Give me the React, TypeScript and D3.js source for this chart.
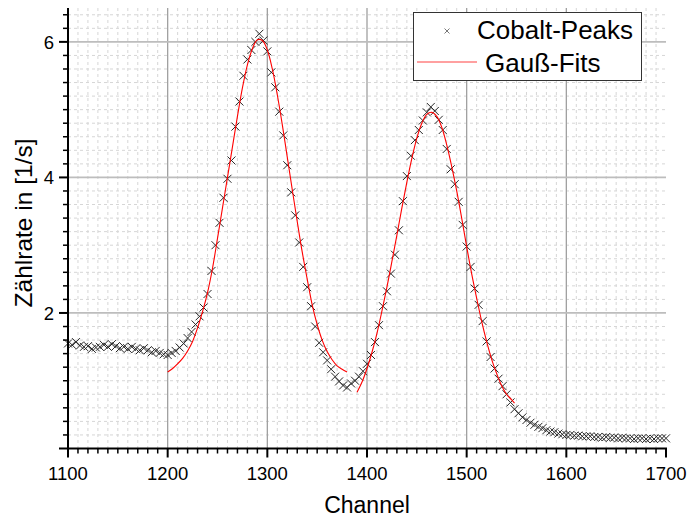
import * as d3 from "d3";

const WIDTH = 690;
const HEIGHT = 520;
const PLOT = { LEFT: 68, RIGHT: 666, TOP: 8, BOTTOM: 448.5 };
const FONT = "'Liberation Sans', Arial, sans-serif";

// measured counts, one every 4 channels starting at 1100
const START_CHANNEL = 1100;
const STEP = 4;
const COUNTS = [
  1.55, 1.53, 1.57, 1.52, 1.5, 1.51, 1.47, 1.49, 1.5, 1.53,
  1.5, 1.54, 1.51, 1.48, 1.5, 1.47, 1.5, 1.47, 1.45, 1.48,
  1.45, 1.42, 1.44, 1.41, 1.39, 1.38, 1.41, 1.44, 1.49, 1.55,
  1.63, 1.72, 1.83, 1.95, 2.08, 2.28, 2.62, 3.0, 3.33, 3.7,
  3.98, 4.25, 4.75, 5.12, 5.5, 5.74, 5.88, 6.0, 6.12, 6.02,
  5.86, 5.55, 5.33, 4.97, 4.62, 4.18, 3.78, 3.44, 3.04, 2.68,
  2.38, 2.1, 1.8, 1.56, 1.42, 1.3, 1.17, 1.06, 0.99, 0.93,
  0.9, 0.96, 1.0, 1.06, 1.14, 1.25, 1.38, 1.57, 1.82, 2.1,
  2.32, 2.58, 2.86, 3.22, 3.65, 4.02, 4.32, 4.55, 4.7, 4.84,
  4.96, 5.04, 4.98, 4.85, 4.7, 4.42, 4.12, 3.9, 3.64, 3.3,
  2.98, 2.68, 2.36, 2.12, 1.88, 1.58, 1.35, 1.18, 1.03, 0.92,
  0.8, 0.68, 0.58, 0.52, 0.46, 0.42, 0.38, 0.35, 0.32, 0.3,
  0.27, 0.25, 0.24, 0.22, 0.21, 0.2, 0.2, 0.19, 0.19, 0.18,
  0.18, 0.18, 0.17, 0.17, 0.16, 0.17, 0.16, 0.16, 0.15, 0.16,
  0.15, 0.15, 0.14, 0.15, 0.15, 0.14, 0.15, 0.14, 0.15, 0.15,
  0.15,
];

// gauss fits, first peak
const FIT1_CH = [
  1200, 1205, 1210, 1215, 1220, 1225, 1230, 1235, 1240, 1245, 1250, 1255,
  1260, 1265, 1270, 1275, 1280, 1285, 1290, 1295, 1300, 1305, 1310, 1315,
  1320, 1325, 1330, 1335, 1340, 1345, 1350, 1355, 1360, 1365, 1370, 1375, 1380,
];
const FIT1_VAL = [
  1.13, 1.18, 1.25, 1.33, 1.44, 1.58, 1.78, 2.02, 2.3, 2.66, 3.1, 3.55,
  4.0, 4.45, 4.9, 5.32, 5.66, 5.9, 6.03, 6.02, 5.88, 5.6, 5.22, 4.78,
  4.3, 3.82, 3.35, 2.9, 2.5, 2.12, 1.83, 1.6, 1.43, 1.31, 1.22, 1.17, 1.13,
];

// second peak
const FIT2_CH = [
  1390, 1395, 1400, 1405, 1410, 1415, 1420, 1425, 1430, 1435, 1440, 1445,
  1450, 1455, 1460, 1465, 1470, 1475, 1480, 1485, 1490, 1495, 1500, 1505,
  1510, 1515, 1520, 1525, 1530, 1535, 1540, 1545, 1548,
];
const FIT2_VAL = [
  0.83, 0.98, 1.18, 1.42, 1.7, 2.03, 2.38, 2.76, 3.15, 3.55, 3.93, 4.28,
  4.58, 4.8, 4.93, 4.96, 4.9, 4.74, 4.48, 4.16, 3.8, 3.4, 2.98, 2.58,
  2.22, 1.88, 1.58, 1.32, 1.11, 0.93, 0.8, 0.72, 0.67,
];

const X_TICKS = [1100, 1200, 1300, 1400, 1500, 1600, 1700];
const Y_TICKS = [2, 4, 6];
const X_LABEL = "Channel";
const Y_LABEL = "Zählrate in [1/s]";
const LEGEND = ["Cobalt-Peaks", "Gauß-Fits"];

export default function App() {
  const x = d3.scaleLinear().domain([1100, 1700]).range([PLOT.LEFT, PLOT.RIGHT]);
  const y = d3.scaleLinear().domain([0, 6.5]).range([PLOT.BOTTOM, PLOT.TOP]);

  const xMinor = d3.range(1100, 1701, 10).filter((v) => v % 100 !== 0);
  const yMinor = d3
    .range(1, 33)
    .map((i) => +(i * 0.2).toFixed(1))
    .filter((v) => Math.abs(v / 2 - Math.round(v / 2)) > 1e-6);
  const yMajor = [0, 2, 4, 6];

  const points = COUNTS.map((v, i) => ({ c: START_CHANNEL + i * STEP, v }));
  const fit1 = FIT1_CH.map((c, i) => ({ c, v: FIT1_VAL[i] }));
  const fit2 = FIT2_CH.map((c, i) => ({ c, v: FIT2_VAL[i] }));

  const line = d3
    .line<{ c: number; v: number }>()
    .x((d) => x(d.c))
    .y((d) => y(d.v))
    .curve(d3.curveCatmullRom);

  const cross = "M-4,-4L4,4M-4,4L4,-4";

  return (
    <div style={{ position: "absolute", left: 0, top: 0 }}>
      <svg width={WIDTH} height={HEIGHT} style={{ display: "block", background: "#fff" }} fontFamily={FONT}>
        {/* minor grid */}
        <g stroke="#d6d6d6" strokeWidth={1} strokeDasharray="3,3">
          {xMinor.map((c) => (
            <line key={"gx" + c} x1={x(c)} x2={x(c)} y1={PLOT.TOP} y2={PLOT.BOTTOM} />
          ))}
          {yMinor.map((v) => (
            <line key={"gy" + v} x1={PLOT.LEFT} x2={PLOT.RIGHT} y1={y(v)} y2={y(v)} />
          ))}
        </g>
        {/* major grid */}
        <g>
          {X_TICKS.slice(1, -1).map((c) => (
            <line key={"Gx" + c} x1={x(c)} x2={x(c)} y1={PLOT.TOP} y2={PLOT.BOTTOM} stroke="#a0a0a0" strokeWidth={1.3} />
          ))}
          {Y_TICKS.map((v) => (
            <line key={"Gy" + v} x1={PLOT.LEFT} x2={PLOT.RIGHT} y1={y(v)} y2={y(v)} stroke="#bdbdbd" strokeWidth={1.8} />
          ))}
        </g>

        {/* data */}
        <g stroke="#111" strokeWidth={1} fill="none" opacity={0.9}>
          {points.map((d) => (
            <path key={"p" + d.c} d={cross} transform={`translate(${x(d.c)},${y(d.v)})`} />
          ))}
        </g>
        <path d={line(fit1) ?? ""} fill="none" stroke="#ff0000" strokeWidth={1.1} />
        <path d={line(fit2) ?? ""} fill="none" stroke="#ff0000" strokeWidth={1.1} />

        {/* axes */}
        <g stroke="#000">
          <line x1={PLOT.LEFT} x2={PLOT.LEFT} y1={PLOT.TOP} y2={PLOT.BOTTOM + 1} strokeWidth={2} />
          <line x1={PLOT.LEFT - 1} x2={PLOT.RIGHT + 1} y1={PLOT.BOTTOM} y2={PLOT.BOTTOM} strokeWidth={2} />
          {xMinor.map((c) => (
            <line key={"tx" + c} x1={x(c)} x2={x(c)} y1={PLOT.BOTTOM} y2={PLOT.BOTTOM + 5} strokeWidth={1.5} />
          ))}
          {X_TICKS.map((c) => (
            <line key={"Tx" + c} x1={x(c)} x2={x(c)} y1={PLOT.BOTTOM} y2={PLOT.BOTTOM + 9} strokeWidth={2} />
          ))}
          {yMinor.map((v) => (
            <line key={"ty" + v} x1={PLOT.LEFT - 5} x2={PLOT.LEFT} y1={y(v)} y2={y(v)} strokeWidth={1.5} />
          ))}
          {yMajor.map((v) => (
            <line key={"Ty" + v} x1={PLOT.LEFT - 9} x2={PLOT.LEFT} y1={y(v)} y2={y(v)} strokeWidth={2} />
          ))}
        </g>
        <g fontSize={18.5} fill="#000">
          {X_TICKS.map((c) => (
            <text key={"lx" + c} x={x(c)} y={PLOT.BOTTOM + 31} textAnchor="middle">
              {c}
            </text>
          ))}
          {Y_TICKS.map((v) => (
            <text key={"ly" + v} x={PLOT.LEFT - 14} y={y(v) + 7} textAnchor="end">
              {v}
            </text>
          ))}
        </g>
        <text x={367} y={513} textAnchor="middle" fontSize={23}>
          {X_LABEL}
        </text>
        <text transform={`translate(32,223) rotate(-90)`} textAnchor="middle" fontSize={24.5}>
          {Y_LABEL}
        </text>

        {/* legend */}
        <g>
          <rect x={413.5} y={12.5} width={228} height={68} fill="#fff" stroke="#333" strokeWidth={1} />
          <path d="M-2.5,-2.5L2.5,2.5M-2.5,2.5L2.5,-2.5" transform="translate(447,31)" stroke="#555" strokeWidth={0.8} />
          <text x={477} y={39} fontSize={26}>
            {LEGEND[0]}
          </text>
          <line x1={417} x2={477} y1={62} y2={62} stroke="#ff8080" strokeWidth={1.3} />
          <text x={485} y={72} fontSize={26}>
            {LEGEND[1]}
          </text>
        </g>
      </svg>
    </div>
  );
}
